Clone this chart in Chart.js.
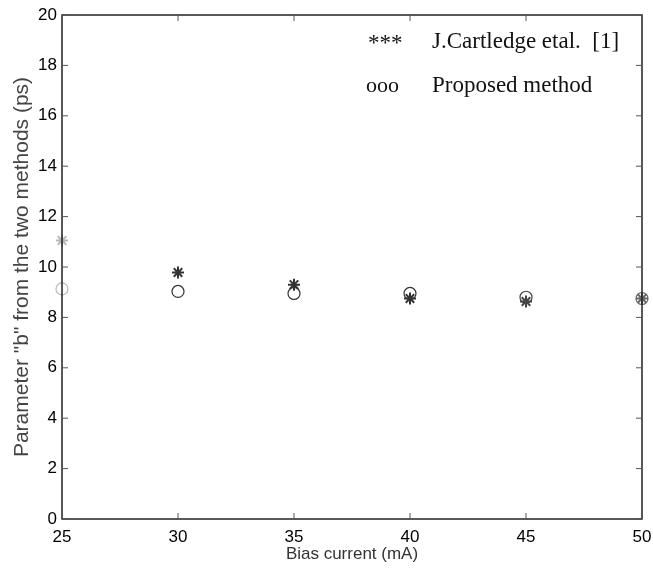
<!DOCTYPE html>
<html>
<head>
<meta charset="utf-8">
<script src="https://cdn.jsdelivr.net/npm/chart.js@4"></script>
<style>
  html, body { margin: 0; padding: 0; background: #fff; }
  #wrap { width: 653px; height: 574px; }
</style>
</head>
<body>
<div id="wrap"><canvas id="chart" width="653" height="574"></canvas></div>
<script>
// Données
const biasCurrent = [25, 30, 35, 40, 45, 50];
const cartledge = [11.05, 9.78, 9.3, 8.75, 8.63, 8.75];
const proposed = [9.13, 9.03, 8.95, 8.95, 8.8, 8.75];
const xTicks = [25, 30, 35, 40, 45, 50];
const yTicks = [0, 2, 4, 6, 8, 10, 12, 14, 16, 18, 20];

// Couleurs des points (le premier est pâle sur le scan)
const pointColors = ['#b8b8b8', '#333', '#333', '#333', '#444', '#666'];

// Cadre et graduations vers l'intérieur, façon MATLAB
const framePlugin = {
    id: 'frame',
    afterDatasetsDraw(chart) {
        const ctx = chart.ctx;
        const a = chart.chartArea;
        const xs = chart.scales.x;
        const ys = chart.scales.y;
        ctx.save();
        ctx.strokeStyle = '#222';
        ctx.lineWidth = 1.5;
        ctx.strokeRect(a.left, a.top, a.right - a.left, a.bottom - a.top);
        ctx.lineWidth = 1;
        ctx.strokeStyle = '#555';
        xTicks.forEach(v => {
            const px = xs.getPixelForValue(v);
            ctx.beginPath();
            ctx.moveTo(px, a.bottom); ctx.lineTo(px, a.bottom - 6);
            ctx.moveTo(px, a.top); ctx.lineTo(px, a.top + 6);
            ctx.stroke();
        });
        yTicks.forEach(v => {
            const py = ys.getPixelForValue(v);
            ctx.beginPath();
            ctx.moveTo(a.left, py); ctx.lineTo(a.left + 6, py);
            ctx.moveTo(a.right, py); ctx.lineTo(a.right - 6, py);
            ctx.stroke();
        });

        // Légende dans le cadre
        ctx.fillStyle = '#111';
        ctx.font = '23px "Liberation Serif", "Times New Roman", serif';
        ctx.textBaseline = 'alphabetic';
        ctx.fillText('***', 368, 50);
        ctx.fillText('J.Cartledge etal.  [1]', 432, 48);
        ctx.font = '22px "Liberation Serif", "Times New Roman", serif';
        ctx.fillText('ooo', 366, 92);
        ctx.font = '23px "Liberation Serif", "Times New Roman", serif';
        ctx.fillText('Proposed method', 432, 92);
        ctx.restore();
    }
};

const ctx = document.getElementById('chart').getContext('2d');
const chart = new Chart(ctx, {
    type: 'scatter',
    data: {
        datasets: [
            {
                label: 'J.Cartledge etal. [1]',
                data: biasCurrent.map((x, i) => ({ x: x, y: cartledge[i] })),
                pointStyle: 'star',
                pointRadius: 6,
                pointBorderWidth: 2,
                pointBorderColor: pointColors,
                pointBackgroundColor: pointColors,
                clip: false
            },
            {
                label: 'Proposed method',
                data: biasCurrent.map((x, i) => ({ x: x, y: proposed[i] })),
                pointStyle: 'circle',
                pointRadius: 6,
                pointBorderWidth: 1.2,
                pointBorderColor: pointColors,
                pointBackgroundColor: 'rgba(0,0,0,0)',
                clip: false
            }
        ]
    },
    options: {
        responsive: false,
        animation: false,
        layout: { padding: { left: 0, right: 11, top: 15, bottom: 0 } },
        plugins: {
            legend: { display: false },
            tooltip: { enabled: false }
        },
        scales: {
            x: {
                type: 'linear',
                min: 25,
                max: 50,
                afterBuildTicks: scale => { scale.ticks = xTicks.map(v => ({ value: v })); },
                afterFit: scale => {
                    scale.height = 55;
                    scale.paddingLeft = 0;
                    scale.paddingRight = 0;
                },
                grid: { display: false, drawTicks: false },
                border: { display: false },
                ticks: {
                    padding: 8,
                    color: '#000',
                    font: { family: '"Liberation Sans", Arial, sans-serif', size: 17 }
                },
                title: {
                    display: true,
                    text: 'Bias current (mA)',
                    color: '#333',
                    padding: { top: 0, bottom: 9 },
                    font: { family: '"Liberation Sans", Arial, sans-serif', size: 17 }
                }
            },
            y: {
                min: 0,
                max: 20,
                afterBuildTicks: scale => { scale.ticks = yTicks.map(v => ({ value: v })); },
                afterFit: scale => {
                    scale.width = 62;
                    scale.paddingTop = 0;
                    scale.paddingBottom = 0;
                },
                grid: { display: false, drawTicks: false },
                border: { display: false },
                ticks: {
                    padding: 5,
                    color: '#000',
                    font: { family: '"Liberation Sans", Arial, sans-serif', size: 17 }
                },
                title: {
                    display: true,
                    text: 'Parameter "b" from the two methods (ps)',
                    color: '#444',
                    padding: { top: 10, bottom: 0 },
                    font: { family: '"Liberation Sans", Arial, sans-serif', size: 21 }
                }
            }
        }
    },
    plugins: [framePlugin]
});
</script>
</body>
</html>
